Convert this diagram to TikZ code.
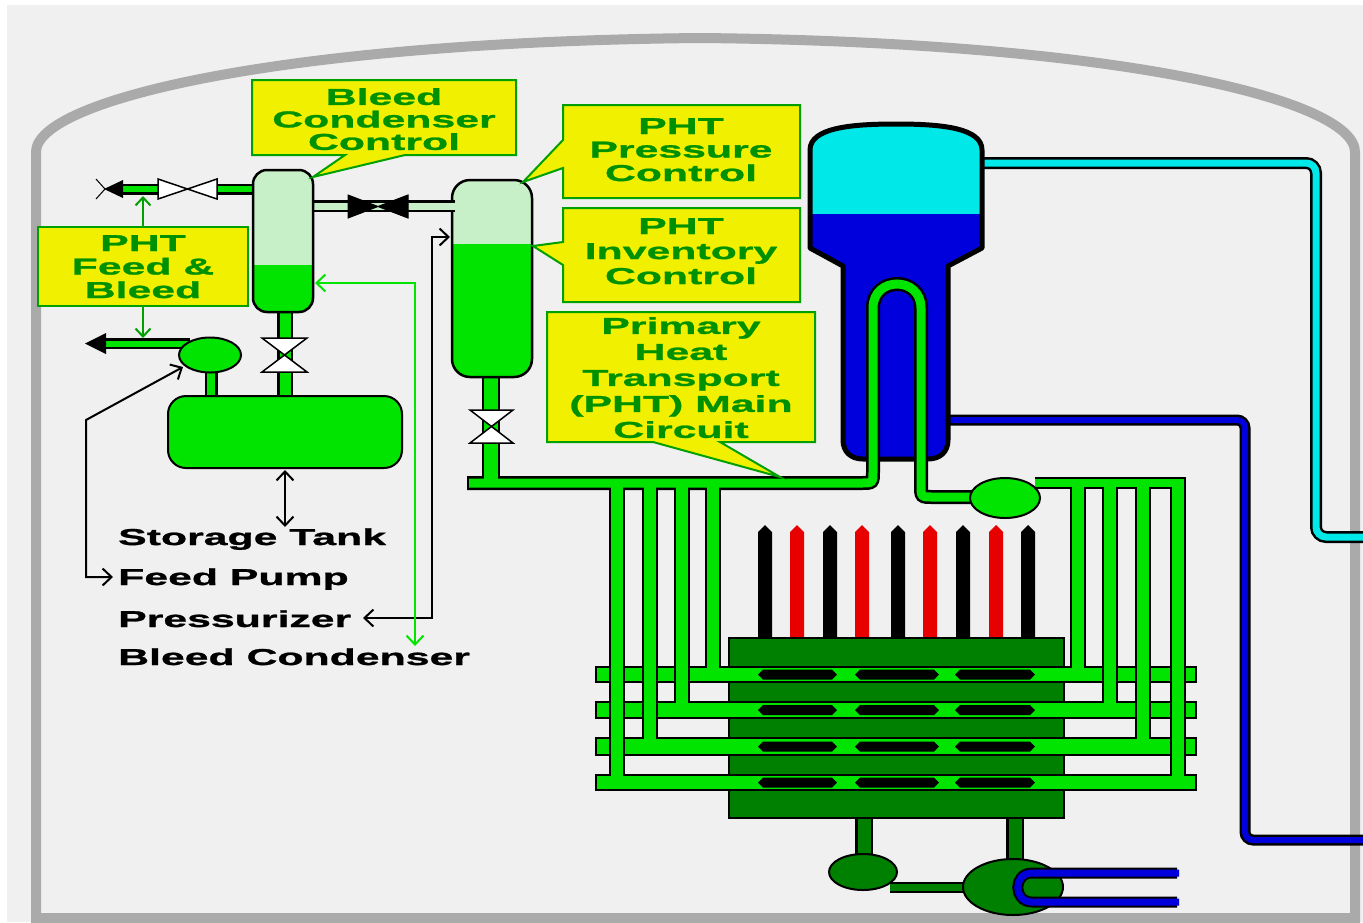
\documentclass[tikz,border=0pt]{standalone}
\usepackage{fontspec}
\newfontfamily\labfont[FakeStretch=1.86,FakeBold=1.2]{Liberation Sans}
\usetikzlibrary{arrows.meta}
\definecolor{bgc}{RGB}{240,240,240}
\definecolor{wallc}{RGB}{170,170,170}
\definecolor{pg}{RGB}{0,228,0}
\definecolor{lg}{RGB}{200,240,200}
\definecolor{dg}{RGB}{0,128,0}
\definecolor{yel}{RGB}{240,240,0}
\definecolor{bordg}{RGB}{0,160,0}
\definecolor{txtg}{RGB}{0,145,0}
\definecolor{cy}{RGB}{0,232,232}
\definecolor{bl}{RGB}{0,0,220}
\definecolor{rd}{RGB}{232,0,0}
\newcommand\utubepath[1]{(#1,483) -- (861,483) .. controls (873,483) .. (873,471) -- (873,308) .. controls (873,276) and (921,276) .. (921,308) -- (921,485) .. controls (921,497) .. (933,497) -- (975,497)}
\newcommand\sgshape{(810,248) -- (810,150) .. controls (810,128) and (850,124) .. (896,124) .. controls (942,124) and (982,128) .. (982,150) -- (982,248) -- (948,266) -- (948,440) .. controls (948,452) and (940,459) .. (928,459) -- (863,459) .. controls (851,459) and (843,452) .. (843,440) -- (843,266) -- cycle}
\tikzset{
  callout/.style={fill=yel,draw=bordg,line width=2pt},
  ctext/.style={font=\labfont\bfseries\fontsize{23pt}{#1pt}\selectfont,text=txtg,align=center,inner sep=0pt,anchor=north},
  ltext/.style={font=\labfont\bfseries\fontsize{23pt}{26pt}\selectfont,text=black,inner sep=0pt,anchor=base west},
  valvew/.style={fill=white,draw=black,line width=1.5pt},
  valveb/.style={fill=black,draw=black,line width=1pt},
  lline/.style={draw=black,line width=2pt,{Straight Barb[length=9pt,width=17pt]}-{Straight Barb[length=9pt,width=17pt]}},
  gline/.style={draw=pg,line width=2pt,{Straight Barb[length=9pt,width=17pt]}-{Straight Barb[length=9pt,width=17pt]}},
  fbarrow/.style={draw=bordg,line width=2pt,-{Straight Barb[length=8pt,width=15pt]}},
  vessel/.style={draw=black,line width=2.5pt},
}
\begin{document}
\begin{tikzpicture}[x=1pt,y=-1pt]
\useasboundingbox (0,0) rectangle (1363,922);
\fill[white] (0,0) rectangle (1363,922);
\fill[bgc] (7,5) rectangle (1363,922);
% containment wall
\draw[wallc,line width=10pt] (36,918) -- (36,152) .. controls (36,100) and (280,42) .. (700,38) .. controls (1120,42) and (1355,100) .. (1355,152) -- (1355,918) -- cycle;
% steam and feedwater lines
\draw[line width=12pt,rounded corners=10pt] (975,163) -- (1316,163) -- (1316,537) -- (1370,537);
\draw[cy,line width=7pt,rounded corners=10pt] (975,163) -- (1316,163) -- (1316,537) -- (1370,537);
\draw[line width=11pt,rounded corners=8pt] (945,420) -- (1245,420) -- (1245,840) -- (1370,840);
\draw[bl,line width=6pt,rounded corners=8pt] (945,420) -- (1245,420) -- (1245,840) -- (1370,840);
% steam generator
\fill[bl] \sgshape;
\begin{scope}
\clip \sgshape;
\fill[cy] (800,100) rectangle (1000,214);
\end{scope}
\draw[line width=5pt,line join=round] \sgshape;
% control rods
\foreach \c/\col in {765/black,797/rd,830/black,862/rd,898/black,930/rd,963/black,996/rd,1028/black}{
  \fill[\col] (\c-7,638) -- (\c-7,532) -- (\c,525) -- (\c+7,532) -- (\c+7,638) -- cycle;
}
% calandria and fuel channels
\draw[fill=dg,line width=1.5pt] (729,638) rectangle (1064,818);
\foreach \t/\b in {667/682,702/718,738/755,775/790}{
  \pgfmathsetmacro\yc{(\t+\b)/2}
  \draw[fill=pg,line width=1.5pt] (596,\t) rectangle (1196,\b);
  \foreach \xa/\xb in {758/837,855/939,955/1035}{
    \fill (\xa,\yc) -- (\xa+5,\yc-5) -- (\xb-5,\yc-5) -- (\xb,\yc) -- (\xb-5,\yc+5) -- (\xa+5,\yc+5) -- cycle;
  }
}
% PHT pipe casings
\draw[line width=14pt] \utubepath{467};
\draw[line width=12pt] (1035,483) -- (1186,483);
\foreach \x/\y in {617/775,650/738,682/702,713/667,1078/667,1110/702,1143/738,1178/775}
  \draw[line width=16pt] (\x,483) -- (\x,\y);
\draw[line width=18pt] (491,372) -- (491,483);
% PHT pipe fills
\draw[pg,line width=9pt] \utubepath{469};
\draw[pg,line width=8pt] (1035,483) -- (1184,483);
\foreach \x/\y in {617/775,650/738,682/702,713/667,1078/667,1110/702,1143/738,1178/775}
  \draw[pg,line width=12pt] (\x,483) -- (\x,\y+2);
\draw[pg,line width=14pt] (491,372) -- (491,485);
% main pump
\draw[fill=pg,line width=2pt] (1005,498) ellipse [x radius=35,y radius=20];
% pressurizer
\begin{scope}
\clip[rounded corners=18pt] (452,180) rectangle (532,377);
\fill[lg] (452,180) rectangle (532,244);
\fill[pg] (452,244) rectangle (532,377);
\end{scope}
\draw[vessel,rounded corners=18pt] (452,180) rectangle (532,377);
\draw[valvew] (470,410) -- (513,410) -- (491.5,426.5) -- cycle;
\draw[valvew] (470,443) -- (513,443) -- (491.5,426.5) -- cycle;
% shutdown cooling / bottom
\draw[line width=18pt] (864,819) -- (864,860);
\draw[line width=18pt] (1015,819) -- (1015,865);
\draw[dg,line width=13pt] (864,819) -- (864,860);
\draw[dg,line width=13pt] (1015,819) -- (1015,865);
\draw[line width=11pt] (890,887) -- (970,887);
\draw[dg,line width=7pt] (890,887) -- (970,887);
\draw[fill=dg,line width=2pt] (863,872) ellipse [x radius=34,y radius=18];
\draw[fill=dg,line width=2pt] (1013,887) ellipse [x radius=50,y radius=28];
\draw[line width=11pt] (1177,873) -- (1032,873) .. controls (1013,873) and (1013,902) .. (1032,902) -- (1177,902);
\draw[bl,line width=7pt] (1179,873) -- (1032,873) .. controls (1013,873) and (1013,902) .. (1032,902) -- (1179,902);
% feed and bleed pipes
\draw[line width=16pt] (285,305) -- (285,400);
\draw[pg,line width=11pt] (285,305) -- (285,400);
\draw[line width=13pt] (211,365) -- (211,400);
\draw[pg,line width=8pt] (211,365) -- (211,400);
\draw[line width=11pt] (104,343.5) -- (190,343.5);
\draw[pg,line width=6pt] (106,343.5) -- (190,343.5);
\draw[line width=11pt] (121,189) -- (160,189);
\draw[pg,line width=6pt] (123,189) -- (160,189);
\draw[line width=11pt] (215,189) -- (256,189);
\draw[pg,line width=6pt] (215,189) -- (256,189);
\draw[line width=12pt] (310,206) -- (455,206);
\draw[lg,line width=7pt] (310,206) -- (455,206);
% bleed condenser
\begin{scope}
\clip[rounded corners=14pt] (253,170) rectangle (313,312);
\fill[lg] (253,170) rectangle (313,265);
\fill[pg] (253,265) rectangle (313,312);
\end{scope}
\draw[vessel,rounded corners=14pt] (253,170) rectangle (313,312);
% storage tank and feed pump
\draw[fill=pg,line width=2pt,rounded corners=18pt] (168,396) rectangle (402,468);
\draw[fill=pg,line width=2pt] (210,355) ellipse [x radius=31,y radius=17.5];
% valves
\draw[valvew] (262,338) -- (307,338) -- (284.5,355) -- cycle;
\draw[valvew] (262,372) -- (307,372) -- (284.5,355) -- cycle;
\draw[valvew] (158,179) -- (187.5,189) -- (158,199) -- cycle;
\draw[valvew] (217,179) -- (187.5,189) -- (217,199) -- cycle;
\draw[valveb] (348,195) -- (378,206.5) -- (348,218) -- cycle;
\draw[valveb] (408,195) -- (378,206.5) -- (408,218) -- cycle;
% outflow arrows
\fill (85,343.5) -- (106,333) -- (106,354) -- cycle;
\fill (104,189) -- (123,180) -- (123,198) -- cycle;
\draw[line width=1pt] (96,179) -- (105,189) -- (96,199);
% callout boxes
\draw[callout] (38,227) rectangle (248,306);
\draw[callout] (252,80) -- (516,80) -- (516,155) -- (405,155) -- (313,177) -- (345,155) -- (252,155) -- cycle;
\draw[callout] (563,105) -- (800,105) -- (800,198) -- (563,198) -- (563,168) -- (523,182) -- (563,140) -- cycle;
\draw[callout] (563,208) -- (800,208) -- (800,302) -- (563,302) -- (563,265) -- (533,246) -- (563,242) -- cycle;
\draw[callout] (547,312) -- (815,312) -- (815,442) -- (720,442) -- (780,477) -- (653,442) -- (547,442) -- cycle;
% callout texts
\node[ctext=23.5] (tfb) at (143,235) {PHT\\Feed \&\\Bleed};
\node[ctext=22.5] (tbcc) at (384,88) {Bleed\\Condenser\\Control};
\node[ctext=23.5] (tpress) at (681,118) {PHT\\Pressure\\Control};
\node[ctext=25] (tinv) at (681,218) {PHT\\Inventory\\Control};
\node[ctext=26] (tmain) at (681,317) {Primary\\Heat\\Transport\\(PHT) Main\\Circuit};
% legend labels
\node[ltext] (lstore) at (118,545) {Storage Tank};
\node[ltext] (lpump) at (118,585) {Feed Pump};
\node[ltext] (lpzr) at (118,627) {Pressurizer};
\node[ltext] (lbc) at (118,665) {Bleed Condenser};
% coordinates for connectors
\coordinate (fbtop) at (143,227);
\coordinate (fbbot) at (143,306);
\coordinate (feedpipe) at (143,196);
\coordinate (bleedpipe) at (143,338);
\coordinate (tankbot) at (285,470);
\coordinate (storetip) at (285,527);
\coordinate (pumpin) at (183,367);
\coordinate (pumptip) at (113,577);
\coordinate (pzrin) at (450,237);
\coordinate (pzrtip) at (363,618);
\coordinate (bcin) at (315,283);
\coordinate (bctip) at (415,646);
% connectors
\draw[fbarrow] (fbtop) -- (feedpipe);
\draw[fbarrow] (fbbot) -- (bleedpipe);
\draw[lline] (storetip) -- (tankbot);
\draw[lline] (pumptip) -- (pumptip -| 86,0) -- (86,420) -- (pumpin);
\draw[lline] (pzrtip) -- (pzrtip -| 432,0) -- (432,237) -- (pzrin);
\draw[gline] (bctip) -- (415,283) -- (bcin);
\end{tikzpicture}
\end{document}
